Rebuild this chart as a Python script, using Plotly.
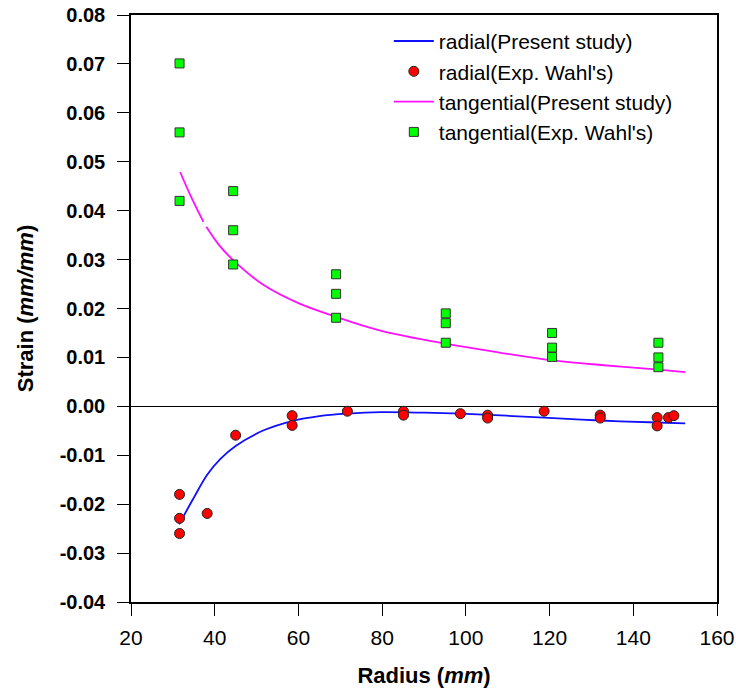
import plotly.graph_objects as go

# Model curves (Present study)
rad_line_r = [31.5, 35.0, 38.2, 41.3, 45.0, 51.7, 58.5, 65.0, 71.7, 79.6, 90.0, 98.7, 118.7, 132.1, 145.7, 152.4]
rad_line_v = [-0.0241, -0.0187, -0.0140, -0.0108, -0.0081, -0.0049, -0.0030, -0.0020, -0.0015, -0.0012,
              -0.0013, -0.0015, -0.0023, -0.0029, -0.0033, -0.0035]

tan_line_r = [31.75, 34.0, 37.3, None, 38.0, 41.0, 44.4, 51.7, 60.0, 69.0, 79.6, 95.2, 108.0, 120.6, 133.0, 146.0, 152.4]
tan_line_v = [0.0479, 0.0435, 0.0377, None, 0.0367, 0.0330, 0.0299, 0.0248, 0.0211, 0.0183, 0.0155, 0.0128,
              0.0110, 0.0094, 0.0084, 0.0075, 0.0070]

# Experimental data (Wahl's)
rad_exp_r = [31.6, 31.6, 31.6, 38.2, 45.0, 58.5, 58.5, 71.7, 85.1, 85.1, 98.7, 105.2, 105.2,
             118.7, 132.1, 132.1, 145.7, 145.7, 148.4, 149.7]
rad_exp_v = [-0.0180, -0.0229, -0.0260, -0.0219, -0.0059, -0.0019, -0.0039, -0.0010, -0.0010,
             -0.0018, -0.0015, -0.0018, -0.0024, -0.0010, -0.0018, -0.0024, -0.0023, -0.0040,
             -0.0023, -0.0019]

tan_exp_r = [31.6, 31.6, 31.6, 44.4, 44.4, 44.4, 69.0, 69.0, 69.0, 95.2, 95.2, 95.2,
             120.6, 120.6, 120.6, 146.0, 146.0, 146.0]
tan_exp_v = [0.0701, 0.0560, 0.0420, 0.0440, 0.0360, 0.0290, 0.0270, 0.0230, 0.0181,
             0.0190, 0.0170, 0.0130, 0.0150, 0.0120, 0.0101, 0.0130, 0.0100, 0.0080]

x_ticks = [20, 40, 60, 80, 100, 120, 140, 160]
y_ticks = [0.08, 0.07, 0.06, 0.05, 0.04, 0.03, 0.02, 0.01, 0.00, -0.01, -0.02, -0.03, -0.04]

FONT = "Liberation Sans, Arial, sans-serif"

fig = go.Figure()
fig.add_trace(go.Scatter(x=rad_line_r, y=rad_line_v, mode="lines", name="radial(Present study)",
                         line=dict(color="#1010ff", width=1.8, shape="spline", smoothing=1.0)))
fig.add_trace(go.Scatter(x=rad_exp_r, y=rad_exp_v, mode="markers", name="radial(Exp. Wahl's)",
                         marker=dict(symbol="circle", size=10, color="#ff0000",
                                     line=dict(color="#222222", width=1))))
fig.add_trace(go.Scatter(x=tan_line_r, y=tan_line_v, mode="lines", name="tangential(Present study)",
                         line=dict(color="#ff10ff", width=1.8, shape="spline", smoothing=1.0),
                         connectgaps=False))
fig.add_trace(go.Scatter(x=tan_exp_r, y=tan_exp_v, mode="markers", name="tangential(Exp. Wahl's)",
                         marker=dict(symbol="square", size=9, color="#00ff00",
                                     line=dict(color="#333333", width=1))))

fig.update_layout(
    width=736, height=694,
    margin=dict(l=131, r=19, t=15, b=92, autoexpand=False),
    paper_bgcolor="white", plot_bgcolor="white",
    font=dict(family=FONT, color="black", size=20),
    showlegend=True,
    legend=dict(x=0.44, y=0.99, xanchor="left", yanchor="top",
                bgcolor="rgba(0,0,0,0)", font=dict(size=21, family=FONT),
                tracegroupgap=0, itemwidth=40),
    xaxis=dict(range=[20, 160], tickvals=x_ticks, ticktext=[str(v) for v in x_ticks],
               automargin=False,
               showgrid=False, zeroline=False, showline=True, linecolor="black", linewidth=1.5,
               mirror=True, ticks="outside", ticklen=12, tickwidth=1, tickcolor="black",
               tickfont=dict(size=21, family=FONT), ticklabelstandoff=4,
               title=dict(text="<b>Radius (<i>mm</i>)</b>", font=dict(size=22, family=FONT), standoff=20)),
    yaxis=dict(range=[-0.04, 0.08], tickvals=y_ticks, ticktext=[f"{v:.2f}" for v in y_ticks],
               automargin=False,
               showgrid=False, zeroline=True, zerolinecolor="black", zerolinewidth=1,
               showline=True, linecolor="black", linewidth=1.5,
               mirror=True, ticks="outside", ticklen=12, tickwidth=1, tickcolor="black",
               tickfont=dict(size=20, family=FONT, weight="bold"), ticklabelstandoff=8,
               title=dict(text="<b>Strain (<i>mm/mm</i>)</b>", font=dict(size=22, family=FONT), standoff=20)),
)

fig.write_html("out.html")
